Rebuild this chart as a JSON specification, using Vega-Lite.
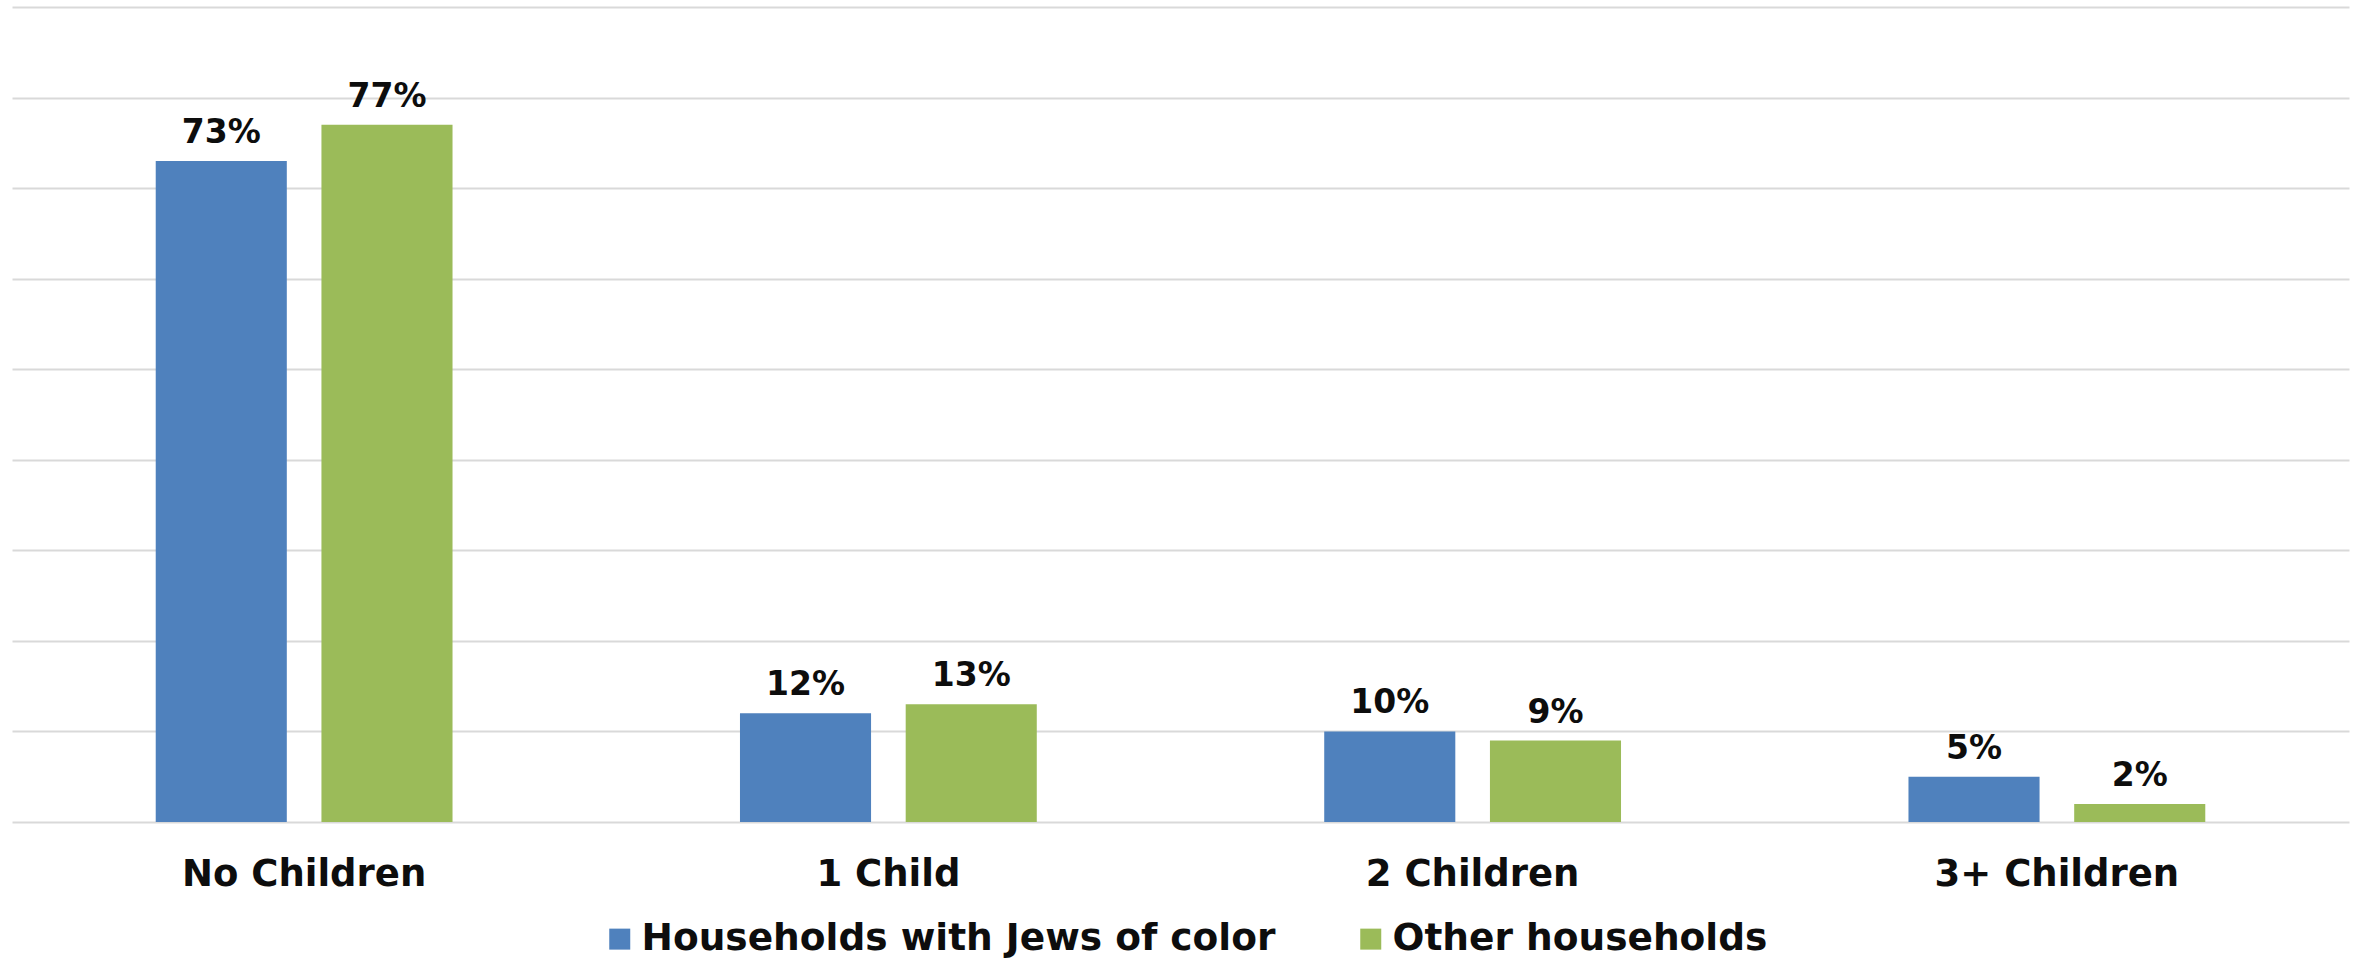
{
  "$schema": "https://vega.github.io/schema/vega-lite/v6.json",
  "width": 2337,
  "height": 815,
  "autosize": {"type": "none"},
  "padding": {"left": 12, "top": 7, "right": 12, "bottom": 137},
  "background": "white",
  "config": {
    "view": {"stroke": null},
    "font": "DejaVu Sans"
  },
  "data": {
    "values": [
      {"category": "No Children", "group": "Households with Jews of color", "value": 0.73},
      {"category": "No Children", "group": "Other households", "value": 0.77},
      {"category": "1 Child", "group": "Households with Jews of color", "value": 0.12},
      {"category": "1 Child", "group": "Other households", "value": 0.13},
      {"category": "2 Children", "group": "Households with Jews of color", "value": 0.10},
      {"category": "2 Children", "group": "Other households", "value": 0.09},
      {"category": "3+ Children", "group": "Households with Jews of color", "value": 0.05},
      {"category": "3+ Children", "group": "Other households", "value": 0.02}
    ]
  },
  "encoding": {
    "x": {
      "field": "category",
      "type": "nominal",
      "sort": ["No Children", "1 Child", "2 Children", "3+ Children"],
      "scale": {"paddingInner": 0.492, "paddingOuter": 0.246},
      "axis": {
        "title": null,
        "labelAngle": 0,
        "ticks": false,
        "domain": false,
        "labelFont": "DejaVu Sans",
        "labelFontSize": 37,
        "labelFontWeight": "bold",
        "labelColor": "#0d0d0d",
        "labelPadding": 34,
        "labelLimit": 1000
      }
    },
    "xOffset": {
      "field": "group",
      "type": "nominal",
      "sort": ["Households with Jews of color", "Other households"],
      "scale": {"paddingInner": 0.209, "paddingOuter": 0}
    },
    "y": {
      "field": "value",
      "type": "quantitative",
      "scale": {"domain": [0, 0.9], "nice": false},
      "axis": {
        "title": null,
        "labels": false,
        "ticks": false,
        "domain": false,
        "values": [0, 0.1, 0.2, 0.3, 0.4, 0.5, 0.6, 0.7, 0.8, 0.9],
        "grid": true,
        "gridColor": "#d9d9d9",
        "gridWidth": 2
      }
    }
  },
  "layer": [
    {
      "mark": {"type": "bar"},
      "encoding": {
        "color": {
          "field": "group",
          "type": "nominal",
          "sort": ["Households with Jews of color", "Other households"],
          "scale": {
            "domain": ["Households with Jews of color", "Other households"],
            "range": ["#4F81BD", "#9BBB59"]
          },
          "legend": {
            "title": null,
            "orient": "none",
            "direction": "horizontal",
            "legendX": 589,
            "legendY": 913,
            "symbolType": "square",
            "symbolSize": 441,
            "symbolStrokeWidth": 0,
            "symbolOpacity": 1,
            "labelFont": "DejaVu Sans",
            "labelFontSize": 37.5,
            "labelFontWeight": "bold",
            "labelColor": "#0d0d0d",
            "labelOffset": 3,
            "columnPadding": 76,
            "labelLimit": 1000
          }
        }
      }
    },
    {
      "mark": {
        "type": "text",
        "baseline": "alphabetic",
        "dy": -18,
        "font": "DejaVu Sans",
        "fontSize": 33,
        "fontWeight": "bold",
        "color": "#0d0d0d"
      },
      "encoding": {
        "text": {"field": "value", "type": "quantitative", "format": ".0%"},
        "detail": {"field": "group"}
      }
    }
  ]
}
